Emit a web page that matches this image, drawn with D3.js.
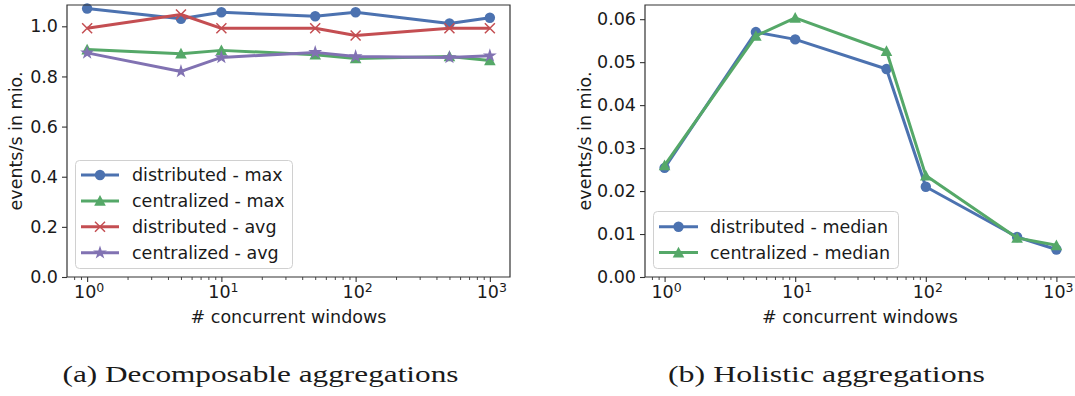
<!DOCTYPE html>
<html>
<head>
<meta charset="utf-8">
<script src="https://cdn.jsdelivr.net/npm/d3@7"></script>
<style>
body { margin: 0; background: #fff; }
svg { display: block; }
text { font-family: "DejaVu Sans", sans-serif; fill: #1a1a1a; }
</style>
</head>
<body>
<svg id="chart" width="1075" height="396"></svg>
<script>
// ---- data ----
const windows = [1, 5, 10, 50, 100, 500, 1000];
const distMax = [1.071, 1.030, 1.056, 1.040, 1.056, 1.011, 1.034];
const centMax = [0.907, 0.891, 0.904, 0.887, 0.872, 0.880, 0.864];
const distAvg = [0.992, 1.047, 0.992, 0.992, 0.963, 0.992, 0.992];
const centAvg = [0.894, 0.820, 0.876, 0.896, 0.880, 0.876, 0.883];
const distMedian = [0.0254, 0.0570, 0.0553, 0.0484, 0.0210, 0.0093, 0.0064];
const centMedian = [0.0260, 0.0561, 0.0603, 0.0526, 0.0236, 0.0091, 0.0074];
const leftYTicks = [0.0, 0.2, 0.4, 0.6, 0.8, 1.0];
const rightYTicks = [0.00, 0.01, 0.02, 0.03, 0.04, 0.05, 0.06];
const xDecades = [1, 10, 100, 1000];
const xLabel = "# concurrent windows";
const yLabel = "events/s in mio.";
const captions = ["(a) Decomposable aggregations", "(b) Holistic aggregations"];

const C = { blue: "#4C72B0", green: "#55A868", red: "#C44E52", purple: "#8172B2" };
const FS = 17.5;

const leftSeries = [
  { name: "distributed - max", values: distMax, color: C.blue, marker: "circle" },
  { name: "centralized - max", values: centMax, color: C.green, marker: "triangle" },
  { name: "distributed - avg", values: distAvg, color: C.red, marker: "x" },
  { name: "centralized - avg", values: centAvg, color: C.purple, marker: "star" }
];
const rightSeries = [
  { name: "distributed - median", values: distMedian, color: C.blue, marker: "circle" },
  { name: "centralized - median", values: centMedian, color: C.green, marker: "triangle" }
];

const svg = d3.select("#chart");

const minorTicks = [];
for (let e = 0; e < 4; e++) for (let m = 2; m <= 9; m++) {
  const v = m * Math.pow(10, e);
  if (v <= 1400) minorTicks.push(v);
}
minorTicks.push(0.8, 0.9);

function drawMarker(g, type, x, y, color) {
  if (type === "circle") {
    g.append("circle").attr("cx", x).attr("cy", y).attr("r", 5.2).attr("fill", color);
  } else if (type === "triangle") {
    const s = 5.8;
    g.append("path").attr("d", `M${x},${y - s}L${x + s},${y + s * 0.85}L${x - s},${y + s * 0.85}Z`).attr("fill", color);
  } else if (type === "x") {
    const s = 5;
    g.append("path").attr("d", `M${x - s},${y - s}L${x + s},${y + s}M${x - s},${y + s}L${x + s},${y - s}`)
      .attr("stroke", color).attr("stroke-width", 1.5).attr("fill", "none");
  } else if (type === "star") {
    const sym = d3.symbol().type(d3.symbolStar).size(60);
    g.append("path").attr("d", sym()).attr("transform", `translate(${x},${y})`).attr("fill", color);
  }
}

function panel(opts) {
  const { x0, x1, y0, y1, yMax, yTicks, yFmt, series, legend, caption, capCenter, capLen, yLabX, xLabCenter } = opts;
  const g = svg.append("g");
  const x = d3.scaleLog().domain([Math.pow(10, -0.15), Math.pow(10, 3.15)]).range([x0, x1]);
  const y = d3.scaleLinear().domain([0, yMax]).range([y1, y0]);

  // lines + markers
  series.forEach(s => {
    const line = d3.line().x((d, i) => x(windows[i])).y(d => y(d));
    g.append("path").datum(s.values).attr("d", line)
      .attr("fill", "none").attr("stroke", s.color).attr("stroke-width", 3)
      .attr("stroke-linejoin", "round");
    s.values.forEach((v, i) => drawMarker(g, s.marker, x(windows[i]), y(v), s.color));
  });

  // spines
  const spine = "#333";
  g.append("path").attr("d", `M${x0},${y1}V${y0}H${x1}V${y1}Z`).attr("fill", "none")
    .attr("stroke", spine).attr("stroke-width", 1.2);

  // y axis
  const ya = g.append("g").attr("transform", `translate(${x0},0)`)
    .call(d3.axisLeft(y).tickValues(yTicks).tickFormat(yFmt).tickSize(5).tickPadding(4));
  ya.select(".domain").remove();
  ya.selectAll("line").attr("stroke", spine).attr("stroke-width", 1.1);
  ya.selectAll("text").attr("font-size", FS).attr("font-family", "DejaVu Sans").attr("fill", "#1a1a1a");

  // x axis minor
  const xm = g.append("g").attr("transform", `translate(0,${y1})`)
    .call(d3.axisBottom(x).tickValues(minorTicks.filter(v => x(v) > x0 && x(v) < Math.min(x1, 1075))).tickFormat("").tickSize(3));
  xm.select(".domain").remove();
  xm.selectAll("line").attr("stroke", spine).attr("stroke-width", 0.9);

  // x axis major
  const xa = g.append("g").attr("transform", `translate(0,${y1})`)
    .call(d3.axisBottom(x).tickValues(xDecades).tickFormat("").tickSize(5));
  xa.select(".domain").remove();
  xa.selectAll("line").attr("stroke", spine).attr("stroke-width", 1.1);
  xDecades.forEach(v => {
    const t = g.append("text").attr("x", x(v) + 2).attr("y", y1 + 21).attr("text-anchor", "middle")
      .attr("font-size", FS);
    t.append("tspan").text("10");
    t.append("tspan").attr("dy", -6.5).attr("font-size", 12.5).text(String(Math.round(Math.log10(v))));
  });

  // axis labels
  g.append("text").attr("x", xLabCenter).attr("y", y1 + 46)
    .attr("text-anchor", "middle").attr("font-size", FS).text(xLabel);
  g.append("text").attr("transform", `translate(${yLabX},${(y0 + y1) / 2}) rotate(-90)`)
    .attr("text-anchor", "middle").attr("font-size", FS).text(yLabel);

  // legend
  const lg = g.append("g");
  lg.append("rect").attr("x", legend.x).attr("y", legend.y).attr("width", legend.w).attr("height", legend.h)
    .attr("rx", 4).attr("fill", "#fff").attr("fill-opacity", 0.8).attr("stroke", "#d0d0d0").attr("stroke-width", 1);
  series.forEach((s, i) => {
    const ry = legend.row0 + i * 25.9;
    lg.append("line").attr("x1", legend.lx0).attr("x2", legend.lx1).attr("y1", ry).attr("y2", ry)
      .attr("stroke", s.color).attr("stroke-width", 3);
    drawMarker(lg, s.marker, (legend.lx0 + legend.lx1) / 2, ry, s.color);
    lg.append("text").attr("x", legend.tx).attr("y", ry + 6.3).attr("font-size", FS).text(s.name);
  });

  // caption
  svg.append("text").attr("x", capCenter).attr("y", 382).attr("text-anchor", "middle")
    .attr("font-size", 23)
    .attr("textLength", capLen).attr("lengthAdjust", "spacingAndGlyphs")
    .style("font-family", "'Liberation Serif', serif").text(caption);
}

panel({
  x0: 67, x1: 510, y0: 5, y1: 277, yMax: 1.085, yTicks: leftYTicks, yFmt: d3.format(".1f"),
  series: leftSeries,
  legend: { x: 75.5, y: 160.5, w: 217, h: 108, row0: 175, lx0: 81, lx1: 119, tx: 132 },
  caption: captions[0], capCenter: 260.5, capLen: 396, yLabX: 22, xLabCenter: 288.5
});
panel({
  x0: 645, x1: 1076, y0: 5, y1: 277, yMax: 0.0633, yTicks: rightYTicks, yFmt: d3.format(".2f"),
  series: rightSeries,
  legend: { x: 653.5, y: 211.5, w: 245, h: 57, row0: 226.7, lx0: 659, lx1: 698, tx: 710 },
  caption: captions[1], capCenter: 826.5, capLen: 317, yLabX: 591, xLabCenter: 860
});
</script>
</body>
</html>
